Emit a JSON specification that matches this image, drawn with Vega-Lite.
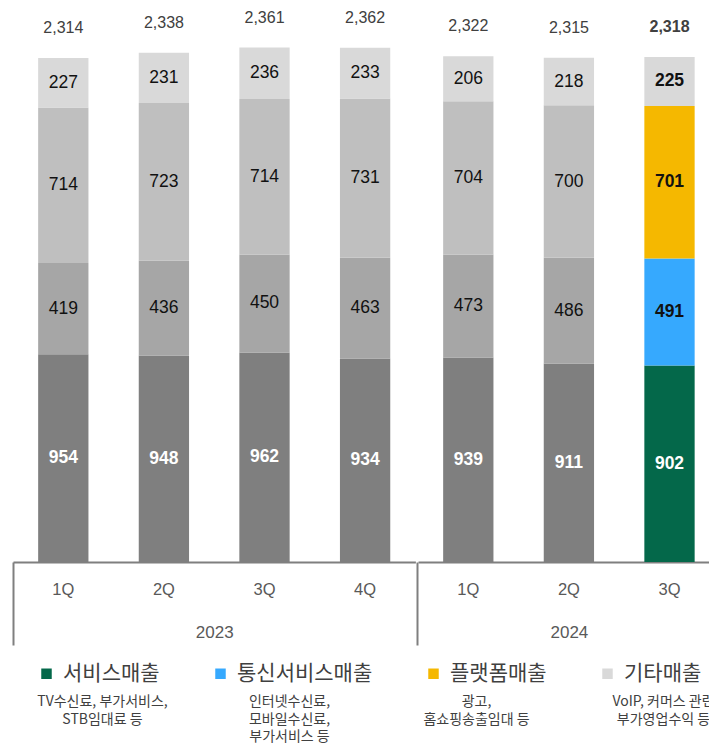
{
  "$schema": "https://vega.github.io/schema/vega-lite/v6.json",
  "background": "white",
  "padding": {"left": 12, "top": 4, "right": 0, "bottom": 0},
  "config": {
    "view": {"stroke": null},
    "axis": {"grid": false},
    "text": {"font": "Liberation Sans"}
  },
  "datasets": {
    "seg": [
      {"yr": "2023", "q": "1Q", "seg": "서비스매출", "v": 954},
      {"yr": "2023", "q": "1Q", "seg": "통신서비스매출", "v": 419},
      {"yr": "2023", "q": "1Q", "seg": "플랫폼매출", "v": 714},
      {"yr": "2023", "q": "1Q", "seg": "기타매출", "v": 227},
      {"yr": "2023", "q": "2Q", "seg": "서비스매출", "v": 948},
      {"yr": "2023", "q": "2Q", "seg": "통신서비스매출", "v": 436},
      {"yr": "2023", "q": "2Q", "seg": "플랫폼매출", "v": 723},
      {"yr": "2023", "q": "2Q", "seg": "기타매출", "v": 231},
      {"yr": "2023", "q": "3Q", "seg": "서비스매출", "v": 962},
      {"yr": "2023", "q": "3Q", "seg": "통신서비스매출", "v": 450},
      {"yr": "2023", "q": "3Q", "seg": "플랫폼매출", "v": 714},
      {"yr": "2023", "q": "3Q", "seg": "기타매출", "v": 236},
      {"yr": "2023", "q": "4Q", "seg": "서비스매출", "v": 934},
      {"yr": "2023", "q": "4Q", "seg": "통신서비스매출", "v": 463},
      {"yr": "2023", "q": "4Q", "seg": "플랫폼매출", "v": 731},
      {"yr": "2023", "q": "4Q", "seg": "기타매출", "v": 233},
      {"yr": "2024", "q": "1Q", "seg": "서비스매출", "v": 939},
      {"yr": "2024", "q": "1Q", "seg": "통신서비스매출", "v": 473},
      {"yr": "2024", "q": "1Q", "seg": "플랫폼매출", "v": 704},
      {"yr": "2024", "q": "1Q", "seg": "기타매출", "v": 206},
      {"yr": "2024", "q": "2Q", "seg": "서비스매출", "v": 911},
      {"yr": "2024", "q": "2Q", "seg": "통신서비스매출", "v": 486},
      {"yr": "2024", "q": "2Q", "seg": "플랫폼매출", "v": 700},
      {"yr": "2024", "q": "2Q", "seg": "기타매출", "v": 218},
      {"yr": "2024", "q": "3Q", "seg": "서비스매출", "v": 902},
      {"yr": "2024", "q": "3Q", "seg": "통신서비스매출", "v": 491},
      {"yr": "2024", "q": "3Q", "seg": "플랫폼매출", "v": 701},
      {"yr": "2024", "q": "3Q", "seg": "기타매출", "v": 225}
    ],
    "tot": [
      {"yr": "2023", "q": "1Q", "total": 2314},
      {"yr": "2023", "q": "2Q", "total": 2338},
      {"yr": "2023", "q": "3Q", "total": 2361},
      {"yr": "2023", "q": "4Q", "total": 2362},
      {"yr": "2024", "q": "1Q", "total": 2322},
      {"yr": "2024", "q": "2Q", "total": 2315},
      {"yr": "2024", "q": "3Q", "total": 2318}
    ],
    "desc": [
      {"seg": "서비스매출", "desc": "TV수신료, 부가서비스,\nSTB임대료 등"},
      {"seg": "통신서비스매출", "desc": "인터넷수신료,\n모바일수신료,\n부가서비스 등"},
      {"seg": "플랫폼매출", "desc": "광고,\n홈쇼핑송출임대 등"},
      {"seg": "기타매출", "desc": "VoIP, 커머스 관련\n부가영업수익 등"}
    ]
  },
  "resolve": {"scale": {"color": "shared"}},
  "spacing": 39,
  "vconcat": [
    {
      "spacing": 0,
      "resolve": {"scale": {"x": "independent", "color": "shared"}},
      "hconcat": [
        {
          "width": 402.4,
          "height": 558,
          "encoding": {
            "x": {
              "field": "q", "type": "nominal",
              "scale": {"paddingInner": 0.5, "paddingOuter": 0.25},
              "axis": {
                "title": "2023", "titleY": 70, "titleBaseline": "middle",
                "titleFont": "Liberation Sans", "titleFontSize": 17, "titleFontWeight": "normal", "titleColor": "#595959",
                "labelFont": "Liberation Sans", "labelFontSize": 16.5, "labelColor": "#595959", "labelAngle": 0, "labelPadding": -64,
                "domainColor": "#7f7f7f", "domainWidth": 2,
                "tickSize": 83, "tickWidth": 2, "tickColor": "#7f7f7f", "bandPosition": -0.5,
                "tickOpacity": {"condition": {"test": "datum.value === '1Q'", "value": 1}, "value": 0}
              }
            }
          },
          "layer": [
            {
              "data": {"name": "seg"},
              "transform": [
                {"filter": "datum.yr === '2023'"},
                {"calculate": "indexof(['서비스매출','통신서비스매출','플랫폼매출','기타매출'], datum.seg)", "as": "o"},
                {"stack": "v", "groupby": ["q"], "sort": [{"field": "o", "order": "ascending"}], "as": ["y0", "y1"]},
                {"calculate": "(datum.y0 + datum.y1) / 2", "as": "mid"},
                {"calculate": "(datum.yr === '2024' && datum.q === '3Q') || datum.seg === '기타매출' ? datum.seg : datum.seg + '(이전)'", "as": "key"},
                {"calculate": "datum.seg === '서비스매출' || (datum.yr === '2024' && datum.q === '3Q')", "as": "strong"}
              ],
              "layer": [
                {
                  "mark": {"type": "bar"},
                  "encoding": {
                    "y": {"field": "y0", "type": "quantitative", "scale": {"domain": [0, 2562], "nice": false}, "axis": null},
                    "y2": {"field": "y1"},
                    "color": {
                      "field": "key", "type": "nominal",
                      "scale": {
                        "domain": ["서비스매출", "통신서비스매출", "플랫폼매출", "기타매출", "서비스매출(이전)", "통신서비스매출(이전)", "플랫폼매출(이전)"],
                        "range": ["#04684A", "#36A9FE", "#F5B800", "#D9D9D9", "#7F7F7F", "#A6A6A6", "#BFBFBF"]
                      },
                      "legend": {
                        "orient": "none", "legendX": 23, "legendY": 659, "direction": "horizontal",
                        "values": ["서비스매출", "통신서비스매출", "플랫폼매출", "기타매출"],
                        "title": null, "padding": 0, "symbolType": "square", "symbolSize": 110,
                        "symbolStrokeWidth": 0, "symbolOpacity": 1, "labelOffset": 6, "columnPadding": 50,
                        "labelFont": "Noto Sans CJK KR", "labelFontSize": 21, "labelColor": "#404040", "labelLimit": 300
                      }
                    }
                  }
                },
                {
                  "transform": [{"filter": "!datum.strong"}],
                  "mark": {"type": "text", "fontSize": 17.5, "color": "#111111", "baseline": "middle"},
                  "encoding": {
                    "y": {"field": "mid", "type": "quantitative"},
                    "text": {"field": "v", "type": "quantitative"}
                  }
                },
                {
                  "transform": [{"filter": "datum.strong"}],
                  "mark": {"type": "text", "fontSize": 17.5, "fontWeight": "bold", "baseline": "middle"},
                  "encoding": {
                    "y": {"field": "mid", "type": "quantitative"},
                    "text": {"field": "v", "type": "quantitative"},
                    "color": {"condition": {"test": "datum.seg === '서비스매출'", "value": "#ffffff"}, "value": "#111111"}
                  }
                }
              ]
            },
            {
              "data": {"name": "tot"},
              "transform": [{"filter": "datum.yr === '2023'"}],
              "mark": {"type": "text", "fontSize": 16, "color": "#404040", "baseline": "middle", "dy": -30},
              "encoding": {
                "y": {"field": "total", "type": "quantitative"},
                "text": {"field": "total", "type": "quantitative", "format": ","}
              }
            }
          ]
        },
        {
          "width": 301.8,
          "height": 558,
          "encoding": {
            "x": {
              "field": "q", "type": "nominal",
              "scale": {"paddingInner": 0.5, "paddingOuter": 0.25},
              "axis": {
                "title": "2024", "titleY": 70, "titleBaseline": "middle",
                "titleFont": "Liberation Sans", "titleFontSize": 17, "titleFontWeight": "normal", "titleColor": "#595959",
                "labelFont": "Liberation Sans", "labelFontSize": 16.5, "labelColor": "#595959", "labelAngle": 0, "labelPadding": -64,
                "domainColor": "#7f7f7f", "domainWidth": 2,
                "tickSize": 83, "tickWidth": 2, "tickColor": "#7f7f7f", "bandPosition": -0.5,
                "tickOpacity": {"condition": {"test": "datum.value === '1Q'", "value": 1}, "value": 0}
              }
            }
          },
          "layer": [
            {
              "data": {"name": "seg"},
              "transform": [
                {"filter": "datum.yr === '2024'"},
                {"calculate": "indexof(['서비스매출','통신서비스매출','플랫폼매출','기타매출'], datum.seg)", "as": "o"},
                {"stack": "v", "groupby": ["q"], "sort": [{"field": "o", "order": "ascending"}], "as": ["y0", "y1"]},
                {"calculate": "(datum.y0 + datum.y1) / 2", "as": "mid"},
                {"calculate": "(datum.yr === '2024' && datum.q === '3Q') || datum.seg === '기타매출' ? datum.seg : datum.seg + '(이전)'", "as": "key"},
                {"calculate": "datum.seg === '서비스매출' || (datum.yr === '2024' && datum.q === '3Q')", "as": "strong"}
              ],
              "layer": [
                {
                  "mark": {"type": "bar"},
                  "encoding": {
                    "y": {"field": "y0", "type": "quantitative", "scale": {"domain": [0, 2562], "nice": false}, "axis": null},
                    "y2": {"field": "y1"},
                    "color": {
                      "field": "key", "type": "nominal",
                      "scale": {
                        "domain": ["서비스매출", "통신서비스매출", "플랫폼매출", "기타매출", "서비스매출(이전)", "통신서비스매출(이전)", "플랫폼매출(이전)"],
                        "range": ["#04684A", "#36A9FE", "#F5B800", "#D9D9D9", "#7F7F7F", "#A6A6A6", "#BFBFBF"]
                      },
                      "legend": {
                        "orient": "none", "legendX": 23, "legendY": 659, "direction": "horizontal",
                        "values": ["서비스매출", "통신서비스매출", "플랫폼매출", "기타매출"],
                        "title": null, "padding": 0, "symbolType": "square", "symbolSize": 110,
                        "symbolStrokeWidth": 0, "symbolOpacity": 1, "labelOffset": 6, "columnPadding": 50,
                        "labelFont": "Noto Sans CJK KR", "labelFontSize": 21, "labelColor": "#404040", "labelLimit": 300
                      }
                    }
                  }
                },
                {
                  "transform": [{"filter": "!datum.strong"}],
                  "mark": {"type": "text", "fontSize": 17.5, "color": "#111111", "baseline": "middle"},
                  "encoding": {
                    "y": {"field": "mid", "type": "quantitative"},
                    "text": {"field": "v", "type": "quantitative"}
                  }
                },
                {
                  "transform": [{"filter": "datum.strong"}],
                  "mark": {"type": "text", "fontSize": 17.5, "fontWeight": "bold", "baseline": "middle"},
                  "encoding": {
                    "y": {"field": "mid", "type": "quantitative"},
                    "text": {"field": "v", "type": "quantitative"},
                    "color": {"condition": {"test": "datum.seg === '서비스매출'", "value": "#ffffff"}, "value": "#111111"}
                  }
                }
              ]
            },
            {
              "data": {"name": "tot"},
              "transform": [{"filter": "datum.yr === '2024' && datum.q !== '3Q'"}],
              "mark": {"type": "text", "fontSize": 16, "color": "#404040", "baseline": "middle", "dy": -30},
              "encoding": {
                "y": {"field": "total", "type": "quantitative"},
                "text": {"field": "total", "type": "quantitative", "format": ","}
              }
            },
            {
              "data": {"name": "tot"},
              "transform": [{"filter": "datum.yr === '2024' && datum.q === '3Q'"}],
              "mark": {"type": "text", "fontSize": 16, "fontWeight": "bold", "color": "#404040", "baseline": "middle", "dy": -30},
              "encoding": {
                "y": {"field": "total", "type": "quantitative"},
                "text": {"field": "total", "type": "quantitative", "format": ","}
              }
            }
          ]
        }
      ]
    },
    {
      "width": 748,
      "height": 20,
      "data": {"name": "desc"},
      "mark": {"type": "text", "baseline": "top", "align": "center", "lineBreak": "\n", "lineHeight": 17.5, "font": "Noto Sans CJK KR", "fontSize": 14, "color": "#404040", "dx": -4},
      "encoding": {
        "x": {
          "field": "seg", "type": "nominal",
          "sort": ["서비스매출", "통신서비스매출", "플랫폼매출", "기타매출"],
          "scale": {"paddingInner": 0, "paddingOuter": 0},
          "axis": null
        },
        "text": {"field": "desc", "type": "nominal"}
      }
    }
  ]
}
